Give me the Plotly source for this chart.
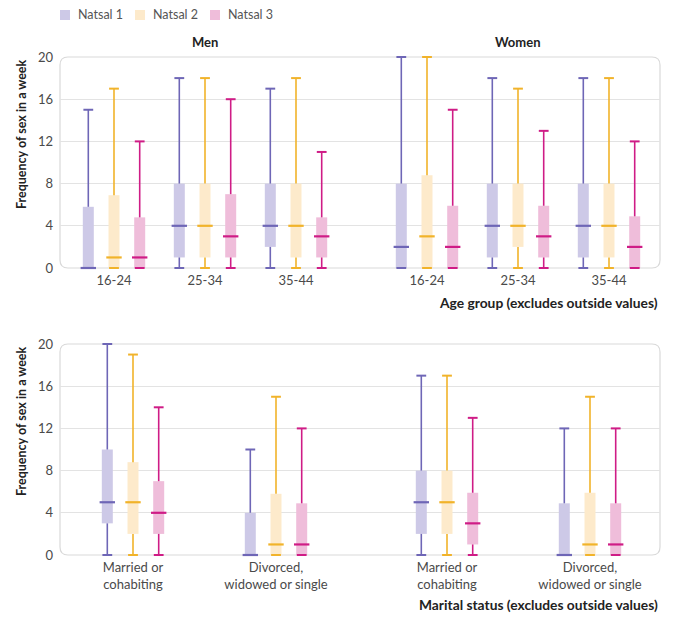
import plotly.graph_objects as go

# ---------------- data ----------------
series = ["Natsal 1", "Natsal 2", "Natsal 3"]

age_groups = ["16-24", "25-34", "35-44"]
# order: Men 16-24, 25-34, 35-44, Women 16-24, 25-34, 35-44
age_lower = {"Natsal 1": [0, 0, 0, 0, 0, 0],
             "Natsal 2": [0, 0, 0, 0, 0, 0],
             "Natsal 3": [0, 0, 0, 0, 0, 0]}
age_q1 = {"Natsal 1": [0, 1, 2, 0, 1, 1],
          "Natsal 2": [0, 1, 1, 0, 2, 1],
          "Natsal 3": [0, 1, 1, 0, 1, 0]}
age_median = {"Natsal 1": [0, 4, 4, 2, 4, 4],
              "Natsal 2": [1, 4, 4, 3, 4, 4],
              "Natsal 3": [1, 3, 3, 2, 3, 2]}
age_q3 = {"Natsal 1": [5.8, 8, 8, 8, 8, 8],
          "Natsal 2": [6.9, 8, 8, 8.8, 8, 8],
          "Natsal 3": [4.8, 7, 4.8, 5.9, 5.9, 4.9]}
age_upper = {"Natsal 1": [15, 18, 17, 20, 18, 18],
             "Natsal 2": [17, 18, 18, 20, 17, 18],
             "Natsal 3": [12, 16, 11, 15, 13, 12]}

marital_groups = ["Married or<br>cohabiting", "Divorced,<br>widowed or single"]
# order: Men married, Men divorced, Women married, Women divorced
mar_lower = {"Natsal 1": [0, 0, 0, 0],
             "Natsal 2": [0, 0, 0, 0],
             "Natsal 3": [0, 0, 0, 0]}
mar_q1 = {"Natsal 1": [3, 0, 2, 0],
          "Natsal 2": [2, 0, 2, 0],
          "Natsal 3": [2, 0, 1, 0]}
mar_median = {"Natsal 1": [5, 0, 5, 0],
              "Natsal 2": [5, 1, 5, 1],
              "Natsal 3": [4, 1, 3, 1]}
mar_q3 = {"Natsal 1": [10, 4, 8, 4.9],
          "Natsal 2": [8.8, 5.8, 8, 5.9],
          "Natsal 3": [7, 4.9, 5.9, 4.9]}
mar_upper = {"Natsal 1": [20, 10, 17, 12],
             "Natsal 2": [19, 15, 17, 15],
             "Natsal 3": [14, 12, 13, 12]}

y_ticks = [0, 4, 8, 12, 16, 20]

# ---------------- styles ----------------
dark = {"Natsal 1": "#6e66b6", "Natsal 2": "#f1b32a", "Natsal 3": "#cf1c86"}
light = {"Natsal 1": "#cdc9e7", "Natsal 2": "#fdeacb", "Natsal 3": "#efbdda"}
FONT = "Lato"
W, H = 674, 635
X0, X1 = 60, 660  # plot area px


def px_x(p):
    return p / W


def px_y(p):
    return 1 - p / H


top_dom = [px_y(268), px_y(57)]
bot_dom = [px_y(555), px_y(344)]

fig = go.Figure()


def add_panel(xa, ya, centers, lower, q1, med, q3, upper):
    offs = {"Natsal 1": -25.7, "Natsal 2": 0, "Natsal 3": 25.7}
    for s in series:
        xs = [c + offs[s] for c in centers]
        # IQR box
        fig.add_trace(go.Bar(
            x=xs, y=[b - a for a, b in zip(q1[s], q3[s])], base=q1[s],
            width=11, marker=dict(color=light[s], line=dict(width=0)),
            name=s, showlegend=False,
            xaxis=xa, yaxis=ya, hoverinfo="skip"))
        # whiskers
        wx, wy = [], []
        for x, lo, a, b, hi in zip(xs, lower[s], q1[s], q3[s], upper[s]):
            if a > lo:
                wx += [x, x, None]
                wy += [lo, a, None]
            wx += [x, x, None]
            wy += [b, hi, None]
        fig.add_trace(go.Scatter(
            x=wx, y=wy, mode="lines", line=dict(color=dark[s], width=1.6),
            showlegend=False, xaxis=xa, yaxis=ya,
            cliponaxis=False, hoverinfo="skip"))
        # caps
        fig.add_trace(go.Scatter(
            x=xs + xs, y=lower[s] + upper[s], mode="markers",
            marker=dict(symbol="line-ew", size=7,
                        line=dict(color=dark[s], width=2)),
            showlegend=False, xaxis=xa, yaxis=ya,
            cliponaxis=False, hoverinfo="skip"))
        # median
        fig.add_trace(go.Scatter(
            x=xs, y=med[s], mode="markers",
            marker=dict(symbol="line-ew", size=11,
                        line=dict(color=dark[s], width=2.2)),
            showlegend=False, xaxis=xa, yaxis=ya,
            cliponaxis=False, hoverinfo="skip"))


# top panel centers (px from plot left)
top_centers = [54 + 91 * i + (40 if i >= 3 else 0) for i in range(6)]
bot_centers = [73 + 143 * i + (28 if i >= 2 else 0) for i in range(4)]

add_panel("x", "y", top_centers, age_lower, age_q1, age_median, age_q3, age_upper)
add_panel("x2", "y2", bot_centers, mar_lower, mar_q1, mar_median, mar_q3, mar_upper)

tick_font = dict(family=FONT, size=13, color="#4a4a4a")
ytitle_font = dict(family=FONT, size=12.5, color="#222222")
xtitle_font = dict(family=FONT, size=13.8, color="#222222")

common_y = dict(range=[0, 20], tickvals=y_ticks, showgrid=True, gridcolor="#e3e3e3",
                gridwidth=1, zeroline=False, showline=False, ticks="",
                tickfont=tick_font, ticklabelstandoff=6, automargin=False)
common_x = dict(domain=[px_x(X0), px_x(X1)], range=[0, X1 - X0],
                showgrid=False, zeroline=False, showline=False, ticks="",
                tickfont=tick_font, automargin=False, ticklabelstandoff=3)

fig.update_layout(
    width=W, height=H,
    margin=dict(l=0, r=0, t=0, b=0, autoexpand=False),
    paper_bgcolor="white", plot_bgcolor="white",
    barmode="overlay",
    font=dict(family=FONT),
    xaxis=dict(tickvals=top_centers, ticktext=age_groups * 2, anchor="y", **common_x),
    yaxis=dict(domain=top_dom, anchor="x", **common_y),
    xaxis2=dict(tickvals=bot_centers, ticktext=marital_groups * 2, anchor="y2", **common_x),
    yaxis2=dict(domain=bot_dom, anchor="x2", **common_y),
    showlegend=False,
)

# legend (drawn manually to match compact spacing)
leg_x = [60, 135, 210]
for s, lx in zip(series, leg_x):
    fig.add_shape(type="rect", xref="paper", yref="paper",
                  x0=px_x(lx), x1=px_x(lx + 10), y0=px_y(20), y1=px_y(10),
                  fillcolor=light[s], line=dict(width=0))
    fig.add_annotation(x=px_x(lx + 16), y=px_y(15), xref="paper", yref="paper",
                       xanchor="left", yanchor="middle", text=s, showarrow=False,
                       font=dict(family=FONT, size=12.5, color="#555555"))


def rounded_rect(x0, y0, x1, y1, r=8):
    # pixel coords -> paper
    def P(x, y):
        return f"{px_x(x):.5f},{px_y(y):.5f}"
    return (f"M{P(x0 + r, y0)} L{P(x1 - r, y0)} Q{P(x1, y0)} {P(x1, y0 + r)} "
            f"L{P(x1, y1 - r)} Q{P(x1, y1)} {P(x1 - r, y1)} "
            f"L{P(x0 + r, y1)} Q{P(x0, y1)} {P(x0, y1 - r)} "
            f"L{P(x0, y0 + r)} Q{P(x0, y0)} {P(x0 + r, y0)} Z")


for (ya, yb) in [(57, 268), (344, 555)]:
    fig.add_shape(type="path", path=rounded_rect(X0, ya, X1, yb), xref="paper", yref="paper",
                  line=dict(color="#d9d9d9", width=1.2), layer="below")

# panel titles
fig.add_annotation(x=top_centers[1], y=px_y(42), xref="x", yref="paper", yanchor="middle",
                   text="<b>Men</b>", showarrow=False,
                   font=dict(family=FONT, size=13, color="#222222"))
fig.add_annotation(x=top_centers[4], y=px_y(42), xref="x", yref="paper", yanchor="middle",
                   text="<b>Women</b>", showarrow=False,
                   font=dict(family=FONT, size=13, color="#222222"))

# axis titles
for yc in [134, 421]:
    fig.add_annotation(x=px_x(21), y=px_y(yc), xref="paper", yref="paper",
                       xanchor="center", yanchor="middle",
                       text="<b>Frequency of sex in a week</b>", textangle=-90,
                       showarrow=False, font=ytitle_font)
fig.add_annotation(x=px_x(660), y=px_y(303), xref="paper", yref="paper", xanchor="right",
                   yanchor="middle", text="<b>Age group (excludes outside values)</b>",
                   showarrow=False, font=xtitle_font)
fig.add_annotation(x=px_x(660), y=px_y(604), xref="paper", yref="paper", xanchor="right",
                   yanchor="middle", text="<b>Marital status (excludes outside values)</b>",
                   showarrow=False, font=xtitle_font)

fig.write_html("out.html")
